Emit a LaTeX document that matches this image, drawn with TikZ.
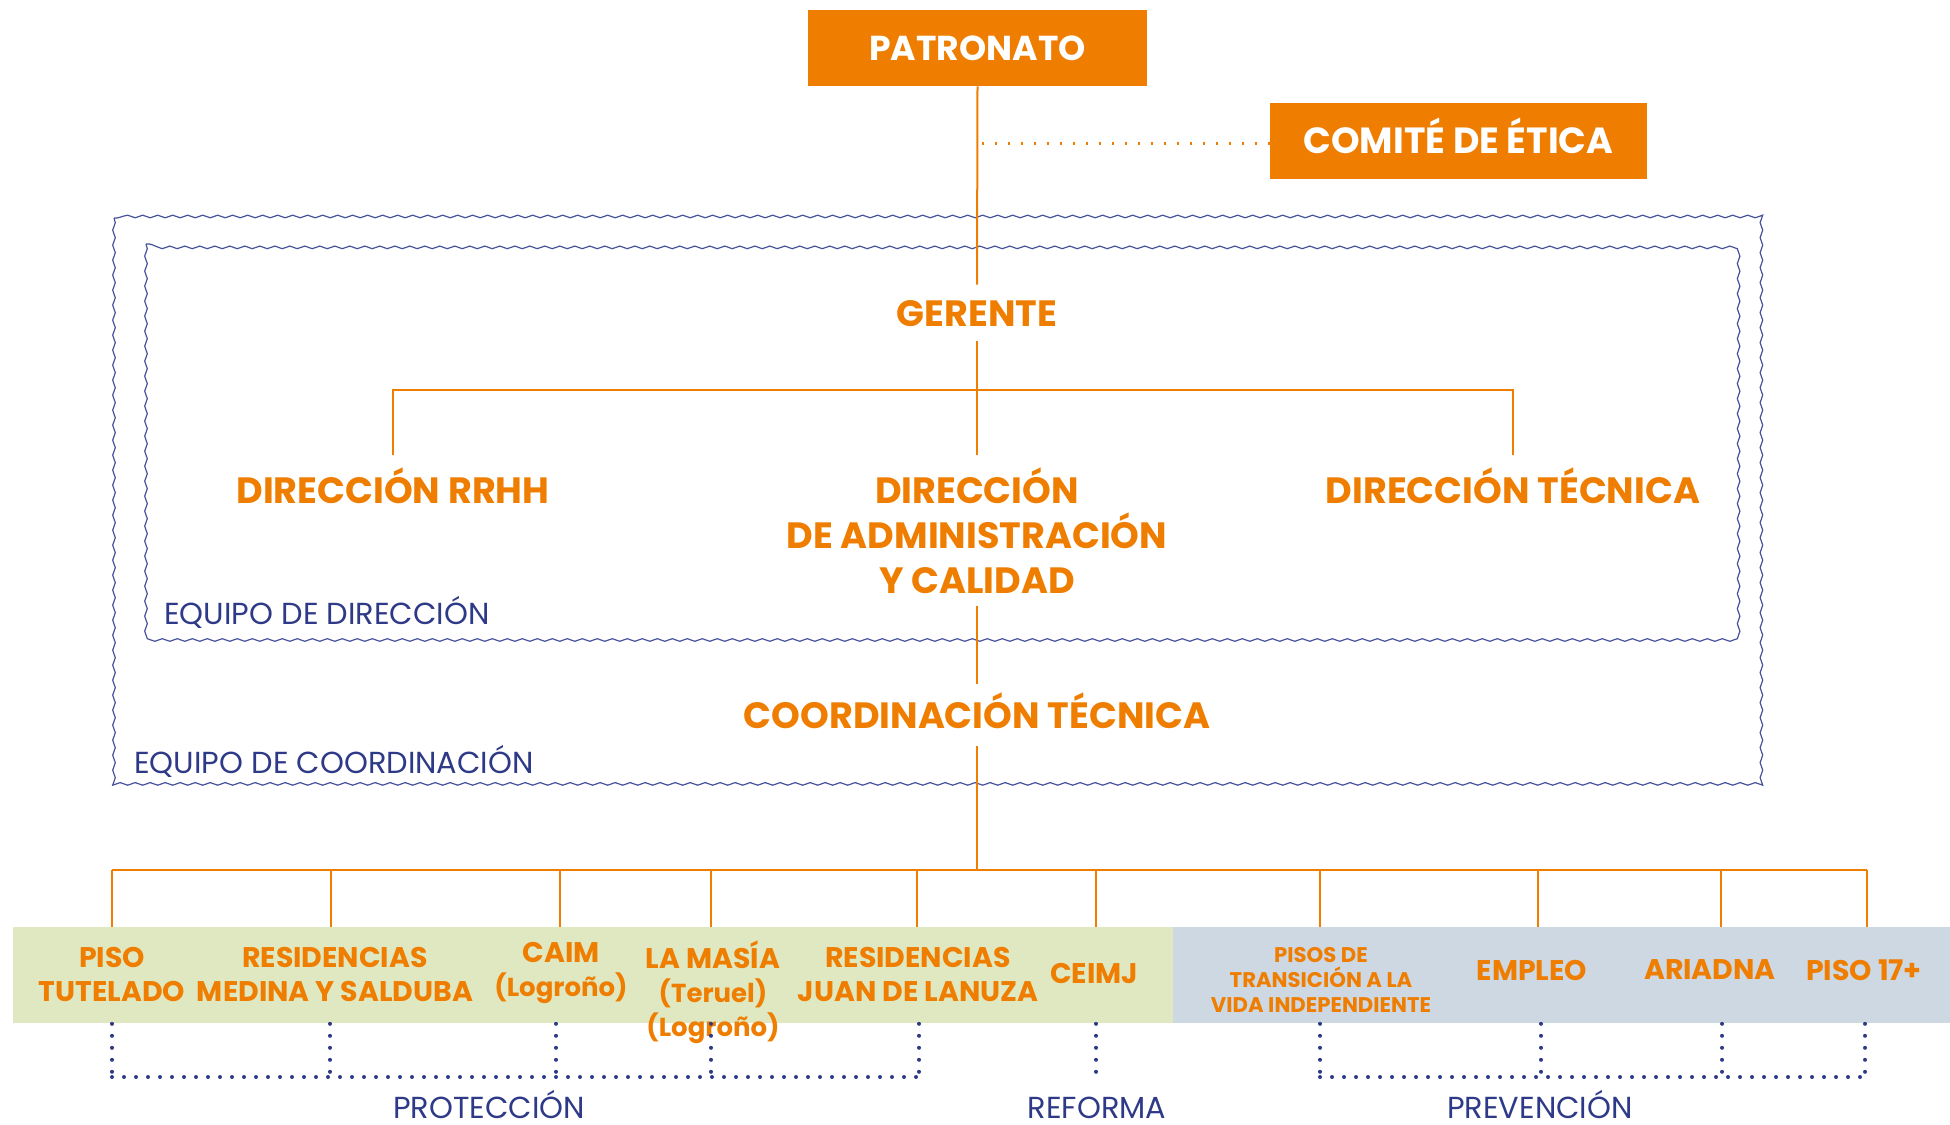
\documentclass[tikz,border=0pt]{standalone}
\usepackage{fontspec}
\setmainfont{Poppins}
\usetikzlibrary{decorations.pathmorphing}
\definecolor{org}{RGB}{238,125,0}
\definecolor{navy}{RGB}{46,58,135}
\definecolor{wavec}{RGB}{70,82,155}
\definecolor{grn}{RGB}{223,232,193}
\definecolor{blu}{RGB}{206,216,226}
\tikzset{
  oline/.style={draw=org, line width=1pt},
  odots/.style={draw=org, line width=1.5pt, dash pattern=on 1.1pt off 5.4pt},
  ndots/.style={draw=navy, line width=2pt, line cap=round, dash pattern=on 0pt off 6pt},
  wavy/.style={draw=wavec, line width=0.6pt, decorate, decoration={snake, segment length=7.5pt, amplitude=0.65pt}},
  topbox/.style={fill=org, text=white, minimum height=38pt, inner sep=0pt, text height=12.2pt, text depth=0pt},
  biglbl/.style={text=org, font=\bfseries\fontsize{18.3}{22.5}\selectfont, align=center, inner xsep=0pt},
  single/.style={text height=13pt, text depth=0pt},
  smlbl/.style={text=org, font=\bfseries\fontsize{14.2}{17}\selectfont, align=center, inner sep=0pt},
  tinylbl/.style={text=org, font=\bfseries\fontsize{10.6}{12.5}\selectfont, align=center, inner sep=0pt},
  grp/.style={text=navy, font=\fontsize{15.2}{18}\selectfont, inner sep=0pt},
  band/.style={minimum height=48pt, inner sep=0pt, anchor=north west}
}
\newcommand{\lc}{\fontsize{13}{17}\selectfont}
\begin{document}
\begin{tikzpicture}[x=0.5pt,y=-0.5pt]
\useasboundingbox (0,0) rectangle (1950,1125);

% wavy team boxes
\draw[wavy] (114,218) rectangle (1762,785);
\draw[wavy] (146,244) rectangle (1733,636);

% top boxes
\node[topbox, font=\bfseries\fontsize{17.3}{20}\selectfont, minimum width=169.5pt] (patronato) at (977.5,48) {PATRONATO};
\node[topbox, font=\bfseries\fontsize{18.2}{20}\selectfont, minimum width=188.5pt] (comite) at (1458.5,141) {COMITÉ DE ÉTICA};
\coordinate (dotstart) at (982,143);
\draw[odots] (dotstart) -- (dotstart -| comite.west);

% management
\node[biglbl, single, inner ysep=7.5pt] (gerente) at (977,313) {GERENTE};
\node[biglbl, single, inner ysep=11pt] (rrhh) at (393,490) {DIRECCIÓN RRHH};
\node[biglbl, single, inner ysep=11pt] (tec) at (1513,490) {DIRECCIÓN TÉCNICA};
\node[biglbl, anchor=north, inner ysep=6pt] (admin) at (977,455) {DIRECCIÓN\\DE ADMINISTRACIÓN\\Y CALIDAD};
\node[biglbl, single, inner ysep=9pt] (coord) at (977,715) {COORDINACIÓN TÉCNICA};

\coordinate (busG) at (977,390);
\draw[oline] (patronato.south) -- (gerente.north);
\draw[oline] (gerente.south) -- (admin.north);
\draw[oline] (rrhh.north) |- (busG) -| (tec.north);
\draw[oline] (admin.south) -- (coord.north);

\node[grp, anchor=west] (eqdir) at (164,612) {EQUIPO DE DIRECCIÓN};
\node[grp, anchor=west] (eqcoord) at (134,761) {EQUIPO DE COORDINACIÓN};

% bands
\node[band, fill=grn, minimum width=580pt] (bandp) at (13,927) {};
\node[band, fill=blu, minimum width=388.5pt] (bandq) at (1173,927) {};

% bus
\coordinate (d1) at (112,870);
\coordinate (d2) at (331,870);
\coordinate (d3) at (560,870);
\coordinate (d4) at (711,870);
\coordinate (d5) at (917,870);
\coordinate (d6) at (1096,870);
\coordinate (d7) at (1320,870);
\coordinate (d8) at (1538,870);
\coordinate (d9) at (1721,870);
\coordinate (d10) at (1867,870);
\draw[oline] (coord.south) -- (coord.south |- d1);
\draw[oline] (d1) -- (d10);
\foreach \d in {d1,d2,d3,d4,d5,d6}{\draw[oline] (\d) -- (\d |- bandp.north);}
\foreach \d in {d7,d8,d9,d10}{\draw[oline] (\d) -- (\d |- bandq.north);}

% bottom labels
\node[smlbl] (tutelado) at (112,974) {PISO\\TUTELADO};
\node[smlbl] (medina) at (335,974) {RESIDENCIAS\\MEDINA Y SALDUBA};
\node[smlbl] (caim) at (561,973) {CAIM\\{\lc (Logroño)}};
\node[smlbl] (masia) at (713,992) {LA MASÍA\\{\lc (Teruel)}\\{\lc (Logroño)}};
\node[smlbl] (lanuza) at (918,974) {RESIDENCIAS\\JUAN DE LANUZA};
\node[smlbl] (ceimj) at (1094,974) {CEIMJ};
\node[tinylbl] (pisos) at (1321,980) {PISOS DE\\TRANSICIÓN A LA\\VIDA INDEPENDIENTE};
\node[smlbl] (empleo) at (1532,970) {EMPLEO};
\node[smlbl] (ariadna) at (1710,970) {ARIADNA};
\node[smlbl] (piso17) at (1864,970) {PISO 17+};

% groups
\coordinate (p1) at (112,1077);
\coordinate (p2) at (330,1077);
\coordinate (p3) at (556,1077);
\coordinate (p4) at (711,1077);
\coordinate (p5) at (919,1077);
\coordinate (r1) at (1096,1077);
\coordinate (v1) at (1320,1077);
\coordinate (v2) at (1541,1077);
\coordinate (v3) at (1722,1077);
\coordinate (v4) at (1865,1077);
\foreach \p in {p1,p2,p3,p4,p5,r1}{\draw[ndots] (\p |- bandp.south) -- (\p);}
\foreach \p in {v1,v2,v3,v4}{\draw[ndots] (\p |- bandq.south) -- (\p);}
\draw[ndots] (p1) -- (p5);
\draw[ndots] (v1) -- (v4);

\node[grp, anchor=base] (prot) at (489,1118) {PROTECCIÓN};
\node[grp, anchor=base] (refo) at (1097,1118) {REFORMA};
\node[grp, anchor=base] (prev) at (1540,1118) {PREVENCIÓN};
\end{tikzpicture}
\end{document}
